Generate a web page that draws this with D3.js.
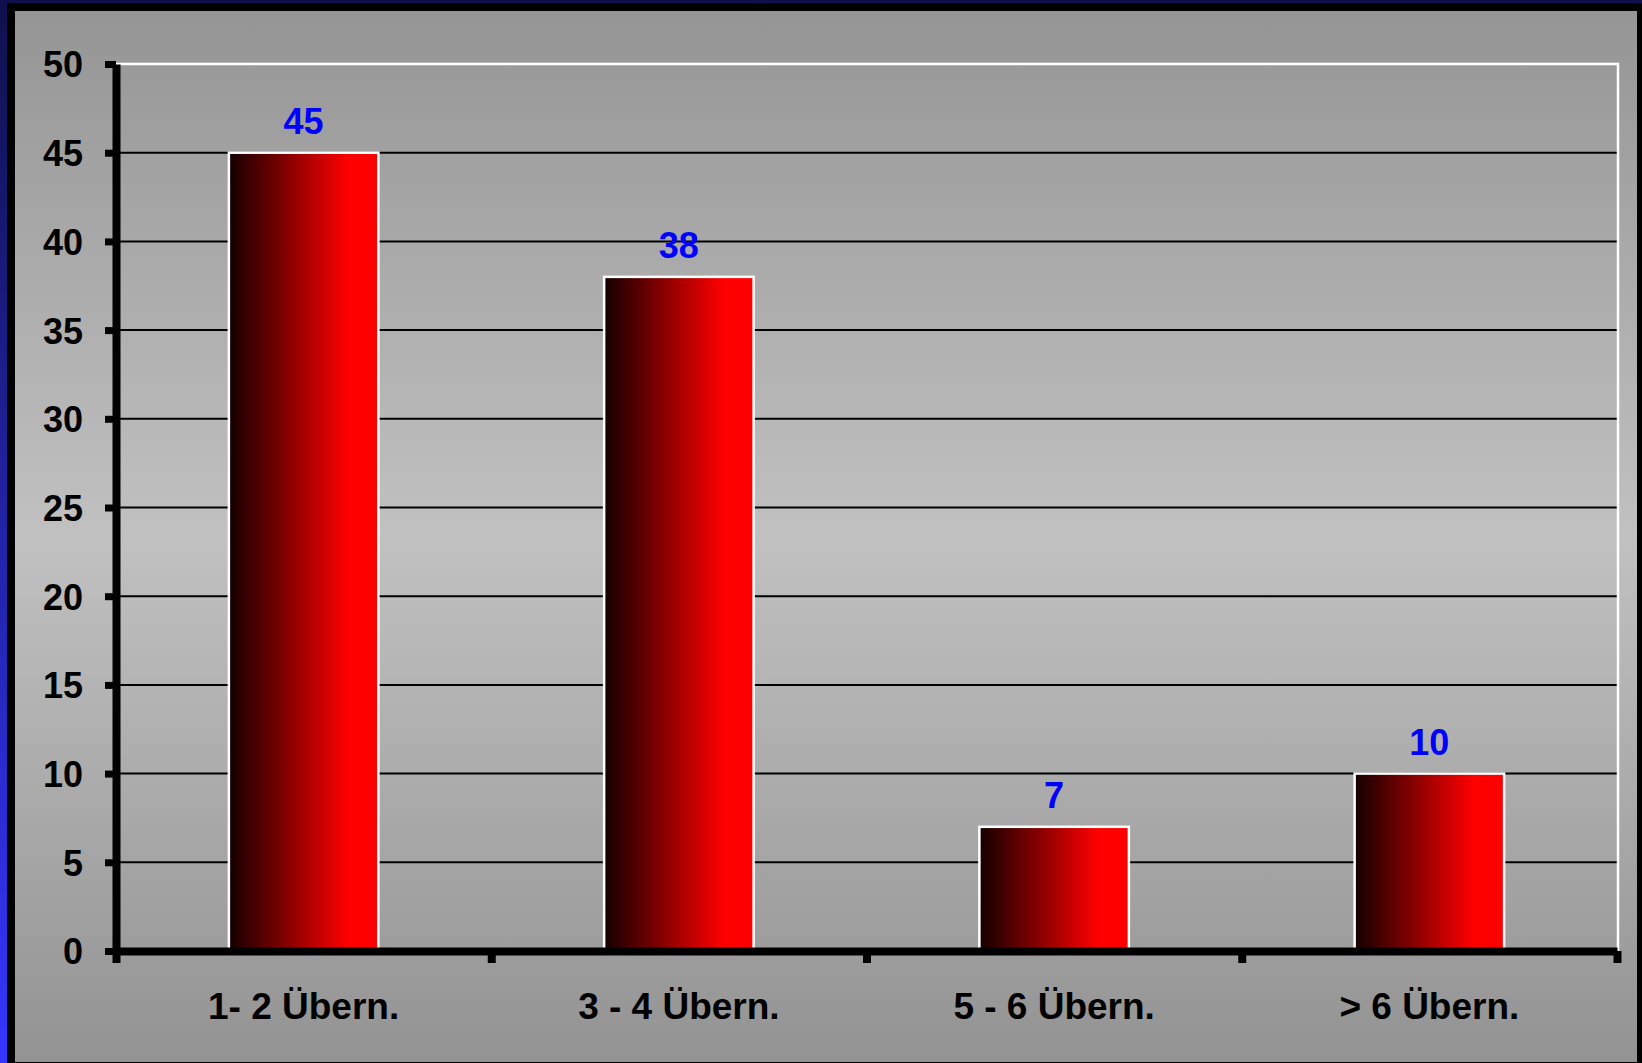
<!DOCTYPE html>
<html>
<head>
<meta charset="utf-8">
<script src="https://cdn.jsdelivr.net/npm/d3@7"></script>
<style>
  html, body { margin: 0; padding: 0; background: #000; }
  svg { display: block; }
  text { font-family: "Liberation Sans", Arial, sans-serif; font-weight: bold; }
</style>
</head>
<body>
<script>
// Übernachtungen: number of overnight stays
const categories = ["1- 2 Übern.", "3 - 4 Übern.", "5 - 6 Übern.", "> 6 Übern."];
const values = [45, 38, 7, 10];
const yTicks = [0, 5, 10, 15, 20, 25, 30, 35, 40, 45, 50];

const W = 1642, H = 1063;
const plot = { left: 116, right: 1617, top: 64, bottom: 951 };

const svg = d3.select("body").append("svg")
  .attr("width", W).attr("height", H);

const defs = svg.append("defs");

// page backdrop: navy to blue, top to bottom
const bgGrad = defs.append("linearGradient").attr("id", "page-bg")
  .attr("x1", 0).attr("y1", 0).attr("x2", 0).attr("y2", 1);
bgGrad.append("stop").attr("offset", 0).attr("stop-color", "#10104e");
bgGrad.append("stop").attr("offset", 1).attr("stop-color", "#3535ff");

// chart panel: grey, lighter in the middle
const panelGrad = defs.append("linearGradient").attr("id", "panel-bg")
  .attr("x1", 0).attr("y1", 0).attr("x2", 0).attr("y2", 1);
panelGrad.append("stop").attr("offset", 0).attr("stop-color", "#959595");
panelGrad.append("stop").attr("offset", 0.5).attr("stop-color", "#c1c1c1");
panelGrad.append("stop").attr("offset", 1).attr("stop-color", "#939393");

// bars: black on the left fading to red
const barGrad = defs.append("linearGradient").attr("id", "bar-fill")
  .attr("x1", 0).attr("y1", 0).attr("x2", 1).attr("y2", 0);
barGrad.append("stop").attr("offset", 0).attr("stop-color", "#140000");
barGrad.append("stop").attr("offset", 0.8).attr("stop-color", "#ff0000");
barGrad.append("stop").attr("offset", 1).attr("stop-color", "#ff0000");

svg.append("rect").attr("width", W).attr("height", H).attr("fill", "url(#page-bg)");
svg.append("rect").attr("x", 7).attr("y", 3).attr("width", W - 7).attr("height", H - 3).attr("fill", "#000");
svg.append("rect").attr("x", 15).attr("y", 11).attr("width", 1622).attr("height", 1051).attr("fill", "url(#panel-bg)");

const x = d3.scaleBand()
  .domain(categories)
  .range([plot.left, plot.right])
  .paddingInner(0.595)
  .paddingOuter(0.2975);

const y = d3.scaleLinear()
  .domain([0, 50])
  .range([plot.bottom, plot.top]);

// horizontal gridlines
svg.append("g")
  .selectAll("line")
  .data(yTicks.filter(t => t > 0))
  .join("line")
  .attr("x1", plot.left)
  .attr("x2", plot.right + 1)
  .attr("y1", d => y(d))
  .attr("y2", d => y(d))
  .attr("stroke", d => d === 50 ? "#ffffff" : "#000000")
  .attr("stroke-width", d => d === 50 ? 2.5 : 2);

// right edge of the plot area
svg.append("line")
  .attr("x1", plot.right + 1).attr("x2", plot.right + 1)
  .attr("y1", y(50) - 1.25).attr("y2", y(0))
  .attr("stroke", "#ffffff").attr("stroke-width", 2.5);

// bars
svg.append("g")
  .selectAll("rect")
  .data(values)
  .join("rect")
  .attr("x", (d, i) => x(categories[i]) + 1.25)
  .attr("y", d => y(d))
  .attr("width", x.bandwidth() - 2.5)
  .attr("height", d => y(0) - y(d))
  .attr("fill", "url(#bar-fill)")
  .attr("stroke", "#ffffff")
  .attr("stroke-width", 2.5);

// value labels
svg.append("g")
  .selectAll("text")
  .data(values)
  .join("text")
  .attr("x", (d, i) => x(categories[i]) + x.bandwidth() / 2)
  .attr("y", d => y(d) - 19)
  .attr("text-anchor", "middle")
  .attr("font-size", 36)
  .attr("fill", "#0000ff")
  .text(d => d);

// y axis
const yAxis = svg.append("g")
  .attr("transform", `translate(${plot.left},0)`)
  .call(d3.axisLeft(y).tickValues(yTicks).tickSize(11).tickSizeOuter(0).tickPadding(22));
yAxis.select(".domain").attr("stroke", "#000").attr("stroke-width", 8);
yAxis.selectAll(".tick line").attr("stroke", "#000").attr("stroke-width", 7);
yAxis.selectAll(".tick text")
  .attr("font-size", 36)
  .attr("font-family", "'Liberation Sans', Arial, sans-serif")
  .attr("font-weight", "bold")
  .attr("fill", "#000")
  .attr("dy", "0.36em");

// x axis: boundary ticks between the categories
const xEdges = d3.scaleLinear().domain([0, categories.length]).range([plot.left, plot.right]);
const xTickAxis = svg.append("g")
  .attr("transform", `translate(0,${plot.bottom})`)
  .call(d3.axisBottom(xEdges).tickValues(d3.range(categories.length + 1)).tickSize(12).tickSizeOuter(0).tickFormat(""));
xTickAxis.select(".domain").attr("stroke", "#000").attr("stroke-width", 8);
xTickAxis.selectAll(".tick line").attr("stroke", "#000").attr("stroke-width", 8);

// x axis: category labels
const xLabelAxis = svg.append("g")
  .attr("transform", `translate(0,${plot.bottom})`)
  .call(d3.axisBottom(x).tickSize(0));
xLabelAxis.select(".domain").remove();
xLabelAxis.selectAll(".tick text")
  .attr("y", 68)
  .attr("dy", 0)
  .attr("font-size", 37)
  .attr("font-family", "'Liberation Sans', Arial, sans-serif")
  .attr("font-weight", "bold")
  .attr("fill", "#000");
</script>
</body>
</html>
